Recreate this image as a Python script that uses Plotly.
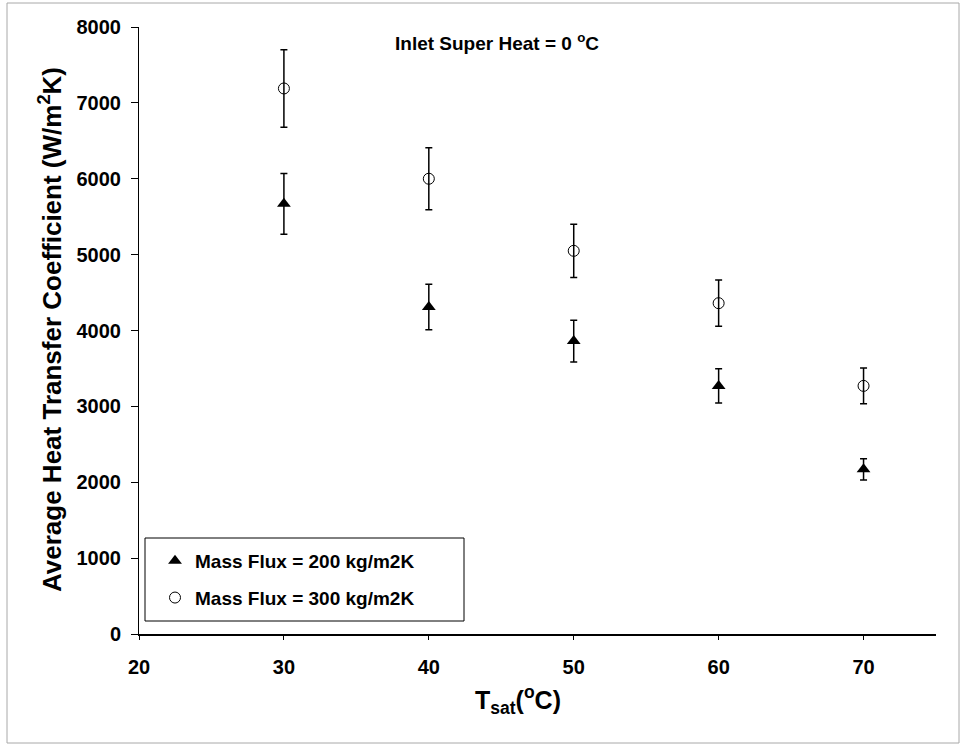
import plotly.graph_objects as go

# saturation temperature (C)
t_sat = [30, 40, 50, 60, 70]

# average heat transfer coefficient (W/m2K) and error bars
h_200 = [5670, 4310, 3860, 3270, 2170]
err_200 = [400, 300, 275, 225, 140]
h_300 = [7190, 6000, 5050, 4360, 3270]
err_300 = [510, 410, 350, 305, 235]

x_ticks = [20, 30, 40, 50, 60, 70]
y_ticks = [0, 1000, 2000, 3000, 4000, 5000, 6000, 7000, 8000]

font_main = "Liberation Sans, Arial, sans-serif"

fig = go.Figure()

fig.add_trace(go.Scatter(
    x=t_sat, y=h_200,
    mode='markers',
    name='Mass Flux = 200 kg/m2K',
    legendgroup='a',
    marker=dict(symbol='triangle-up', size=12, color='black'),
    error_y=dict(type='data', array=err_200, color='black', thickness=1.5, width=3.5)
))

fig.add_trace(go.Scatter(
    x=t_sat, y=h_300,
    mode='markers',
    name='Mass Flux = 300 kg/m2K',
    legendgroup='b',
    marker=dict(symbol='circle-open', size=11, color='black', line=dict(width=1, color='black')),
    error_y=dict(type='data', array=err_300, color='black', thickness=1.5, width=3.5)
))

# plot area in pixels: x 139..936, y 27..634
W, H = 963, 746
L, R, T, B = 139, 936, 27, 634
pw, ph = R - L, B - T

def px(x):
    return (x - L) / pw

def py(y):
    return (B - y) / ph

fig.update_layout(
    width=W, height=H,
    margin=dict(l=L, r=W - R, t=T, b=H - B),
    paper_bgcolor='white',
    plot_bgcolor='white',
    font=dict(family=font_main, color='black'),
    showlegend=True,
    legend=dict(
        x=px(155), y=py(542), xanchor='left', yanchor='top',
        bgcolor='rgba(0,0,0,0)', borderwidth=0,
        font=dict(size=19, family=font_main, weight='bold'),
        tracegroupgap=9, traceorder='grouped',
        itemwidth=30
    ),
    xaxis=dict(
        range=[20, 75], tickvals=x_ticks,
        ticks='outside', ticklen=4, tickcolor='black', tickwidth=1,
        showline=True, linecolor='black', linewidth=2,
        showgrid=False, zeroline=False,
        tickfont=dict(size=20, family=font_main, weight='bold'),
        ticklabelstandoff=10
    ),
    yaxis=dict(
        range=[0, 8000], tickvals=y_ticks,
        ticks='outside', ticklen=7, tickcolor='black', tickwidth=1,
        showline=True, linecolor='black', linewidth=1,
        showgrid=False, zeroline=False,
        tickfont=dict(size=20, family=font_main, weight='bold'),
        ticklabelstandoff=6
    ),
    shapes=[
        # outer frame
        dict(type='rect', xref='paper', yref='paper',
             x0=px(7), x1=px(959), y0=py(743), y1=py(3),
             line=dict(color='#a8a8a8', width=1), fillcolor='rgba(0,0,0,0)', layer='below'),
        # legend box
        dict(type='rect', xref='paper', yref='paper',
             x0=px(145), x1=px(464), y0=py(621), y1=py(538),
             line=dict(color='black', width=1), fillcolor='rgba(0,0,0,0)'),
    ],
    annotations=[
        dict(text='Inlet Super Heat = 0 <sup>o</sup>C', xref='paper', yref='paper',
             x=px(497), y=py(42), xanchor='center', yanchor='middle', showarrow=False,
             font=dict(size=19, family=font_main, weight='bold')),
        dict(text='Average Heat Transfer Coefficient (W/m<sup>2</sup>K)', xref='paper', yref='paper',
             x=px(50), y=py(330), xanchor='center', yanchor='middle', showarrow=False,
             textangle=-90, font=dict(size=26, family=font_main, weight='bold')),
        dict(text='T<sub>sat</sub>(<sup>o</sup>C)', xref='paper', yref='paper',
             x=px(518), y=py(700), xanchor='center', yanchor='middle', showarrow=False,
             font=dict(size=25, family=font_main, weight='bold')),
    ]
)

fig.write_html("out.html", config={'displayModeBar': False},
               post_script="document.body.style.margin='0px';")
